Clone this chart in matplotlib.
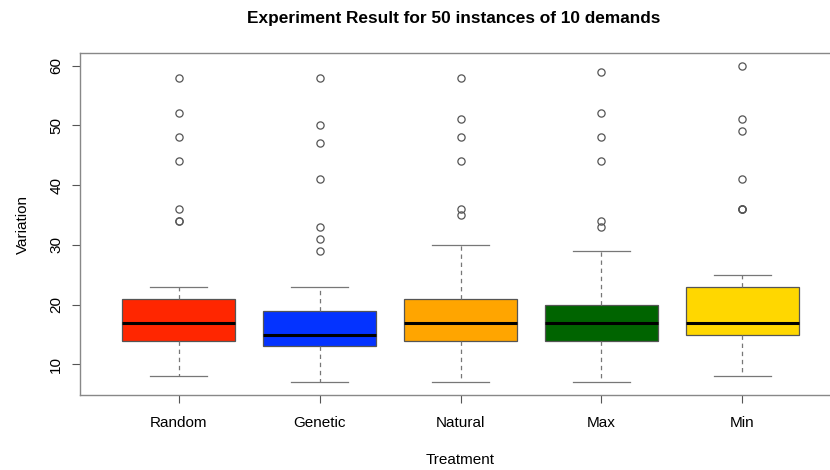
import matplotlib
matplotlib.use("Agg")
import matplotlib.pyplot as plt

# values
treatments = ["Random", "Genetic", "Natural", "Max", "Min"]
medians = [17, 15, 17, 17, 17]
q1 = [14, 13, 14, 14, 15]
q3 = [21, 19, 21, 20, 23]
whisk_lo = [8, 7, 7, 7, 8]
whisk_hi = [23, 23, 30, 29, 25]
outliers = [
    [58, 52, 48, 44, 36, 34, 34],
    [58, 50, 47, 41, 33, 31, 29],
    [58, 51, 48, 44, 36, 35],
    [59, 52, 48, 44, 34, 33],
    [60, 51, 49, 41, 36, 36, 36],
]
colors = ["#FF2600", "#0433FF", "#FFA500", "#006400", "#FFD700"]

plt.rcParams['font.family'] = ['Liberation Sans', 'DejaVu Sans']

stats = []
for i, name in enumerate(treatments):
    stats.append({
        "label": name,
        "med": medians[i],
        "q1": q1[i],
        "q3": q3[i],
        "whislo": whisk_lo[i],
        "whishi": whisk_hi[i],
        "fliers": outliers[i],
    })

fig = plt.figure(figsize=(8.3, 4.7), dpi=100)
ax = fig.add_axes([80 / 830, 75 / 470, 761 / 830, 342 / 470])

bp = ax.bxp(stats, positions=range(1, 6), widths=0.8, patch_artist=True,
            boxprops=dict(edgecolor="#555555", linewidth=0.9),
            medianprops=dict(color="black", linewidth=2.2),
            whiskerprops=dict(color="#777777", linestyle=(0, (3.5, 3)), linewidth=0.9),
            capprops=dict(color="#777777", linewidth=0.9),
            capwidths=0.4,
            flierprops=dict(marker="o", markerfacecolor="none", markeredgecolor="#555555",
                            markersize=5.2, markeredgewidth=0.9))
for patch, c in zip(bp["boxes"], colors):
    patch.set_facecolor(c)

ax.set_xlim(0.3, 5.7)
ax.set_ylim(4.88, 62.12)
ax.set_yticks([10, 20, 30, 40, 50, 60])
ax.tick_params(axis="y", labelrotation=90, length=6, color="#555555", labelsize=11, pad=6)
ax.tick_params(axis="x", length=6, color="#555555", labelsize=11, pad=9)
for lab in ax.get_yticklabels():
    lab.set_verticalalignment("center")
for s in ax.spines.values():
    s.set_color("#888888")
    s.set_linewidth(1.0)

ax.set_xlabel("Treatment", fontsize=11, labelpad=17)
ax.set_ylabel("Variation", fontsize=11, labelpad=14)
fig.text(454 / 830, 1 - 18 / 470, "Experiment Result for 50 instances of 10 demands",
         ha="center", va="center", fontsize=12.4, fontweight="bold")

plt.savefig("out.png", dpi=100)
